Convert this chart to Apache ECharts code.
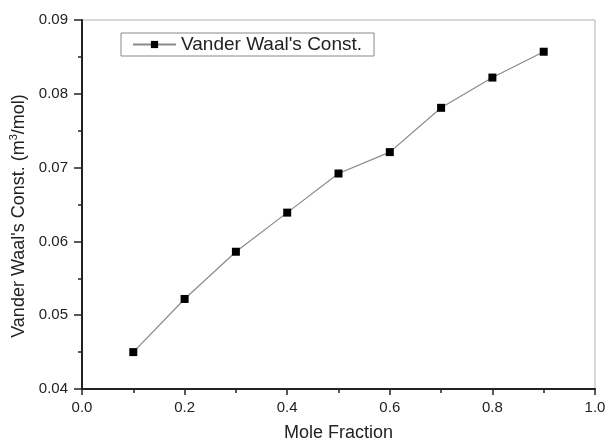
<!DOCTYPE html>
<html><head><meta charset="utf-8">
<script src="https://cdn.jsdelivr.net/npm/echarts@6/dist/echarts.min.js"></script>
<style>html,body{margin:0;padding:0;background:#fff}#c{width:607px;height:443px}</style>
</head><body><div id="c"></div>
<script>
const seriesName = "Vander Waal's Const.";
const moleFraction = [0.1, 0.2, 0.3, 0.4, 0.5, 0.6, 0.7, 0.8, 0.9];
const vanderWaal = [0.0450, 0.0522, 0.0586, 0.0639, 0.0692, 0.0721, 0.0781, 0.0822, 0.0857];
const xTitle = "Mole Fraction";
const yTitle = "Vander Waal's Const. (m{sup|3}/mol)";

const font = "'Liberation Sans', Arial, sans-serif";
const chart = echarts.init(document.getElementById('c'));
chart.setOption({
  animation: false,
  backgroundColor: '#fff',
  grid: { left: 82, right: 12, top: 20, bottom: 54, containLabel: false, outerBoundsMode: 'none',
          show: true, borderColor: '#b0b0b0', borderWidth: 1 },
  legend: {
    left: 121, top: 33, itemWidth: 43, itemHeight: 9, itemGap: 4,
    padding: [2, 12, 2, 11],
    borderColor: '#888', borderWidth: 1,
    textStyle: { fontFamily: font, fontSize: 19, color: '#222' },
    data: [seriesName]
  },
  xAxis: {
    type: 'value', min: 0, max: 1, interval: 0.2,
    name: xTitle, nameLocation: 'middle', nameGap: 35,
    nameTextStyle: { fontFamily: font, fontSize: 18, color: '#222' },
    axisLine: { show: true, onZero: false, lineStyle: { color: '#222', width: 2 } },
    axisTick: { show: true, inside: false, length: 6, lineStyle: { color: '#222', width: 1.5 } },
    minorTick: { show: true, splitNumber: 2, length: 4, lineStyle: { color: '#222', width: 1.5 } },
    splitLine: { show: false },
    axisLabel: { fontFamily: font, fontSize: 15, color: '#222', margin: 11, formatter: v => v.toFixed(1) }
  },
  yAxis: {
    type: 'value', min: 0.04, max: 0.09, interval: 0.01,
    name: yTitle, nameLocation: 'middle', nameGap: 53, nameRotate: 90,
    nameTextStyle: { fontFamily: font, fontSize: 18, color: '#222', padding: [0, 23, 0, 0],
      rich: { sup: { fontFamily: font, fontSize: 11, color: '#222', verticalAlign: 'top', padding: [0,0,9,0] } } },
    axisLine: { show: true, onZero: false, lineStyle: { color: '#222', width: 2 } },
    axisTick: { show: true, inside: false, length: 8, lineStyle: { color: '#222', width: 1.5 } },
    minorTick: { show: true, splitNumber: 2, length: 4, lineStyle: { color: '#222', width: 1.5 } },
    splitLine: { show: false },
    axisLabel: { fontFamily: font, fontSize: 15, color: '#222', margin: 14, formatter: v => v.toFixed(2) }
  },
  series: [{
    name: seriesName, type: 'line',
    data: moleFraction.map((x, i) => [x, vanderWaal[i]]),
    symbol: 'rect', symbolSize: 8,
    lineStyle: { color: '#8a8a8a', width: 1.2 },
    itemStyle: { color: '#000' }
  }]
});
</script></body></html>
